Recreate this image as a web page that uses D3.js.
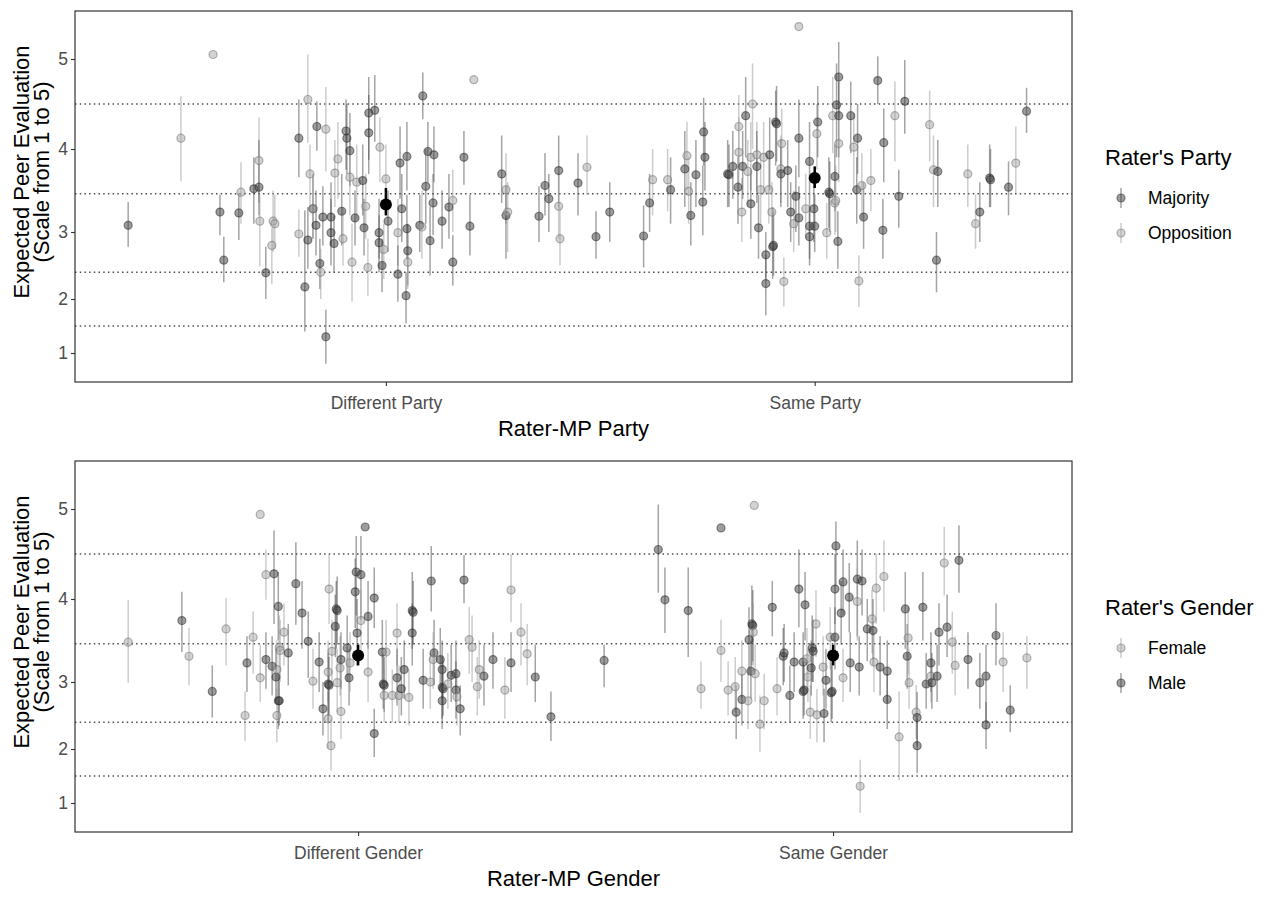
<!DOCTYPE html>
<html>
<head>
<meta charset="utf-8">
<script src="https://cdn.jsdelivr.net/npm/d3@7"></script>
<style>
  html, body { margin: 0; padding: 0; background: #fff; }
  svg { display: block; font-family: "Liberation Sans", Arial, "DejaVu Sans", sans-serif; }
</style>
</head>
<body>
<svg id="chart" width="1275" height="900"></svg>
<script>
// ---------------- data ----------------
const yTicks = [1, 2, 3, 4, 5];
const yTickLatent = [0, 0.54, 1.21, 2.04, 2.94];   // position of each tick label on the latent scale
const latentDomain = [-0.29, 3.42];
const cutpoints = [1.5, 2.4, 3.46, 4.5];

const partyCats = ["Different Party", "Same Party"];
const partyGroups = ["Majority", "Opposition"];
const genderCats = ["Different Gender", "Same Gender"];
const genderGroups = ["Female", "Male"];

// [x (jittered category position), estimate, lower, upper, group]
const partyPoints = [
[0.399,3.08,2.78,3.36,"Majority"],[0.522,4.12,3.61,4.59,"Opposition"],[0.597,5.05,5.05,5.05,"Opposition"],
[0.613,3.24,2.95,3.45,"Majority"],[0.622,2.58,2.25,2.93,"Majority"],[0.657,3.23,2.88,3.47,"Majority"],
[0.662,3.48,3.1,3.84,"Opposition"],[0.704,3.86,3.35,4.35,"Opposition"],[0.692,3.52,3.1,3.9,"Majority"],
[0.704,3.54,3.2,4.1,"Majority"],[0.706,3.13,2.49,3.45,"Opposition"],[0.720,2.39,2.0,2.78,"Majority"],
[0.734,2.8,2.22,3.05,"Opposition"],[0.737,3.13,2.7,3.5,"Opposition"],[0.741,3.1,2.75,3.45,"Opposition"],
[0.797,2.97,2.63,3.27,"Opposition"],[0.797,4.12,3.66,4.55,"Majority"],[0.811,2.18,1.4,3.26,"Majority"],
[0.818,4.55,4.07,5.05,"Opposition"],[0.818,2.88,2.45,3.3,"Majority"],[0.823,3.7,3.3,4.05,"Opposition"],
[0.830,3.28,2.9,3.7,"Majority"],[0.830,3.28,2.9,3.65,"Opposition"],[0.837,3.08,2.65,3.5,"Majority"],
[0.839,4.25,3.98,4.53,"Majority"],[0.846,2.53,2.15,2.9,"Majority"],[0.848,2.4,2.0,2.75,"Opposition"],
[0.853,3.18,2.8,3.55,"Majority"],[0.860,4.22,3.73,4.69,"Opposition"],[0.860,1.3,0.8,1.8,"Majority"],
[0.872,3.18,2.8,3.6,"Majority"],[0.872,2.99,2.5,3.4,"Majority"],[0.879,2.83,2.4,3.2,"Majority"],
[0.881,3.71,3.3,4.1,"Opposition"],[0.888,3.88,3.4,4.3,"Opposition"],[0.897,3.25,2.8,3.7,"Majority"],
[0.900,2.9,2.5,3.3,"Opposition"],[0.907,4.2,3.75,4.55,"Majority"],[0.909,4.12,3.7,4.5,"Majority"],
[0.916,3.98,3.55,4.4,"Majority"],[0.916,3.66,3.2,4.1,"Opposition"],[0.921,2.55,1.95,3.1,"Opposition"],
[0.928,3.17,2.8,3.5,"Majority"],[0.932,3.6,3.15,4.05,"Opposition"],[0.946,3.62,3.2,4.05,"Majority"],
[0.949,3.05,2.65,3.4,"Majority"],[0.953,3.31,2.9,3.7,"Opposition"],[0.958,2.47,2.05,2.9,"Opposition"],
[0.960,4.4,3.87,4.8,"Majority"],[0.960,4.18,3.7,4.6,"Majority"],[0.974,4.43,4.08,4.82,"Majority"],
[0.984,2.99,2.6,3.4,"Majority"],[0.984,2.84,2.4,3.2,"Majority"],[0.986,4.02,3.6,4.35,"Opposition"],
[0.991,2.5,2.1,2.9,"Majority"],[0.995,2.74,2.3,3.1,"Opposition"],[1.0,3.64,3.2,4.05,"Opposition"],
[1.005,3.13,2.7,3.5,"Majority"],[1.028,2.99,2.5,3.4,"Opposition"],[1.028,2.37,1.95,2.8,"Majority"],
[1.033,3.83,3.4,4.25,"Majority"],[1.037,3.28,2.85,3.7,"Majority"],[1.047,2.05,1.55,2.4,"Majority"],
[1.049,3.91,3.5,4.3,"Majority"],[1.049,3.04,2.6,3.45,"Majority"],[1.051,2.72,2.2,3.1,"Majority"],
[1.051,2.55,2.15,2.95,"Opposition"],[1.079,3.08,2.7,3.45,"Majority"],[1.084,3.06,2.6,3.5,"Opposition"],
[1.086,4.59,4.33,4.85,"Majority"],[1.093,3.55,3.1,4.0,"Majority"],[1.098,3.97,3.6,4.3,"Majority"],
[1.103,2.87,2.35,3.3,"Majority"],[1.110,3.35,2.95,3.7,"Majority"],[1.112,3.93,3.6,4.25,"Majority"],
[1.131,3.13,2.75,3.5,"Majority"],[1.147,3.3,2.9,3.7,"Majority"],[1.156,3.38,3.0,3.75,"Opposition"],
[1.156,2.55,2.2,2.95,"Majority"],[1.182,3.9,3.57,4.2,"Majority"],[1.196,3.07,2.65,3.45,"Majority"],
[1.205,4.77,4.77,4.77,"Opposition"],[1.270,3.7,3.35,4.15,"Majority"],[1.280,3.51,3.1,3.95,"Opposition"],
[1.280,3.2,2.6,3.55,"Majority"],[1.284,3.24,2.7,3.6,"Opposition"],[1.357,3.19,2.85,3.55,"Majority"],
[1.371,3.56,3.2,3.95,"Majority"],[1.380,3.4,3.0,3.7,"Majority"],[1.403,3.74,3.3,4.15,"Majority"],
[1.403,3.31,2.9,3.7,"Opposition"],[1.406,2.9,2.5,3.3,"Opposition"],[1.448,3.59,3.2,3.95,"Majority"],
[1.469,3.78,3.45,4.15,"Opposition"],[1.490,2.93,2.6,3.25,"Majority"],[1.522,3.24,2.85,3.6,"Majority"],
[1.601,2.94,2.47,3.32,"Majority"],[1.615,3.35,3.0,3.7,"Majority"],[1.622,3.63,3.2,4.0,"Opposition"],
[1.657,3.63,3.25,4.0,"Opposition"],[1.664,3.51,3.1,3.9,"Majority"],[1.697,3.76,3.3,4.2,"Majority"],
[1.702,3.92,3.5,4.3,"Opposition"],[1.706,3.49,3.1,3.9,"Opposition"],[1.711,3.2,2.8,3.6,"Majority"],
[1.723,3.69,3.3,4.1,"Majority"],[1.741,4.19,3.8,4.57,"Majority"],[1.744,3.9,3.5,4.3,"Majority"],
[1.739,3.36,2.95,3.8,"Majority"],[1.797,3.7,3.3,4.1,"Majority"],[1.800,3.69,3.3,4.05,"Majority"],
[1.809,3.79,3.4,4.2,"Majority"],[1.821,3.54,3.1,3.9,"Majority"],[1.823,4.25,3.8,4.6,"Opposition"],
[1.823,3.96,3.5,4.35,"Opposition"],[1.830,3.24,2.85,3.65,"Opposition"],[1.832,3.79,3.4,4.2,"Majority"],
[1.839,4.37,3.9,4.8,"Majority"],[1.844,3.73,3.3,4.1,"Opposition"],[1.851,3.9,3.5,4.3,"Opposition"],
[1.851,3.34,2.9,3.75,"Majority"],[1.855,4.5,4.0,4.95,"Opposition"],[1.865,3.93,3.5,4.3,"Opposition"],
[1.865,3.79,3.35,4.2,"Majority"],[1.869,3.05,2.6,3.45,"Majority"],[1.874,3.51,3.1,3.9,"Opposition"],
[1.881,3.9,3.45,4.3,"Opposition"],[1.886,2.66,2.3,3.0,"Majority"],[1.886,2.23,1.7,2.66,"Majority"],
[1.893,3.51,3.1,3.9,"Opposition"],[1.895,3.93,3.5,4.35,"Majority"],[1.900,3.24,2.85,3.6,"Opposition"],
[1.902,2.78,2.3,3.3,"Majority"],[1.904,2.8,2.35,3.25,"Majority"],[1.909,4.3,3.8,4.65,"Majority"],
[1.911,4.28,3.85,4.7,"Majority"],[1.921,3.76,3.35,4.15,"Opposition"],[1.921,3.7,3.3,4.1,"Majority"],
[1.923,4.06,3.6,4.45,"Opposition"],[1.928,2.26,1.86,2.62,"Opposition"],[1.937,3.74,3.3,4.1,"Majority"],
[1.944,3.24,2.85,3.6,"Majority"],[1.951,3.1,2.7,3.5,"Opposition"],[1.956,3.43,3.0,3.8,"Majority"],
[1.963,4.12,3.66,4.55,"Majority"],[1.963,3.17,2.8,3.55,"Majority"],[1.979,3.28,2.9,3.7,"Opposition"],
[1.988,3.85,3.45,4.3,"Majority"],[1.988,3.07,2.6,3.45,"Majority"],[1.988,2.93,2.5,3.3,"Majority"],
[1.998,3.28,2.85,3.65,"Majority"],[2.0,3.07,2.7,3.45,"Majority"],[2.005,4.17,3.75,4.5,"Opposition"],
[2.007,4.3,3.9,4.7,"Majority"],[2.028,2.99,2.6,3.35,"Opposition"],[2.033,3.48,3.05,3.9,"Majority"],
[2.035,3.46,3.0,3.85,"Majority"],[2.042,4.37,3.95,4.8,"Opposition"],[2.047,3.67,3.25,4.05,"Majority"],
[2.047,3.35,2.95,3.75,"Opposition"],[2.049,3.38,3.0,3.8,"Opposition"],[2.051,4.49,3.9,4.95,"Majority"],
[2.054,2.86,2.45,3.25,"Majority"],[2.056,4.8,4.35,5.19,"Majority"],[2.056,4.37,3.9,4.75,"Majority"],
[2.056,4.06,3.6,4.45,"Opposition"],[2.084,4.37,3.95,4.75,"Majority"],[2.091,4.02,3.55,4.4,"Opposition"],
[2.098,3.51,3.1,3.9,"Majority"],[2.100,4.12,3.7,4.5,"Majority"],[2.103,2.27,1.85,2.65,"Opposition"],
[2.110,3.56,3.15,3.95,"Opposition"],[2.114,3.18,2.75,3.6,"Majority"],[2.131,3.62,3.25,4.0,"Opposition"],
[2.147,4.76,4.5,5.03,"Majority"],[2.159,3.02,2.6,3.4,"Majority"],[2.161,4.07,3.6,4.45,"Majority"],
[2.187,4.37,3.85,4.75,"Opposition"],[2.196,3.43,3.05,3.75,"Majority"],[2.210,4.53,4.17,4.99,"Majority"],
[2.268,4.27,3.85,4.65,"Opposition"],[2.277,3.75,3.3,4.15,"Opposition"],[2.284,2.58,2.1,3.0,"Majority"],
[2.287,3.73,3.3,4.1,"Majority"],[2.357,3.7,3.3,4.05,"Opposition"],[2.375,3.1,2.75,3.45,"Opposition"],
[2.385,3.24,2.85,3.6,"Majority"],[2.408,3.65,3.3,4.05,"Majority"],[2.410,3.63,3.3,4.0,"Majority"],
[2.452,3.54,3.2,3.85,"Majority"],[2.469,3.83,3.47,4.25,"Opposition"],[2.494,4.42,4.18,4.68,"Majority"],
[1.963,5.36,5.36,5.36,"Opposition"]
];
// [category position, mean, lower, upper]
const partyMeans = [[1, 3.33, 3.2, 3.53], [2, 3.65, 3.53, 3.79]];

const genderPoints = [
[0.516,3.48,2.99,3.99,"Female"],[0.629,3.74,3.36,4.08,"Male"],[0.644,3.31,2.95,3.65,"Female"],
[0.693,2.86,2.47,3.2,"Male"],[0.722,3.64,3.2,4.01,"Female"],[0.762,2.5,2.12,2.86,"Female"],
[0.766,3.23,2.85,3.55,"Male"],[0.779,3.54,3.1,3.85,"Female"],[0.794,4.94,4.94,4.94,"Female"],
[0.794,3.05,2.7,3.45,"Female"],[0.806,4.27,3.99,4.55,"Female"],[0.806,3.27,2.9,3.6,"Male"],
[0.819,3.19,2.8,3.55,"Male"],[0.823,4.28,3.7,4.76,"Male"],[0.827,3.06,2.7,3.4,"Male"],
[0.829,3.15,2.75,3.5,"Female"],[0.832,3.91,3.5,4.3,"Male"],[0.832,2.72,2.3,3.1,"Male"],
[0.834,2.72,2.35,3.05,"Male"],[0.829,2.5,2.1,2.9,"Female"],[0.834,3.42,3.0,3.8,"Female"],
[0.844,3.6,3.2,3.95,"Female"],[0.836,3.38,3.0,3.75,"Female"],[0.853,3.35,2.95,3.7,"Male"],
[0.869,4.17,3.69,4.63,"Male"],[0.882,3.83,3.4,4.2,"Male"],[0.895,3.49,3.05,3.85,"Male"],
[0.905,3.01,2.6,3.4,"Female"],[0.918,3.24,2.85,3.6,"Male"],[0.926,2.6,2.2,3.0,"Male"],
[0.937,2.45,2.0,2.85,"Female"],[0.943,2.05,1.6,2.45,"Female"],[0.937,3.12,2.7,3.5,"Female"],
[0.937,2.97,2.4,3.35,"Male"],[0.939,2.95,2.5,3.3,"Male"],[0.939,4.11,3.7,4.5,"Female"],
[0.945,3.37,3.0,3.75,"Female"],[0.952,3.67,3.3,4.05,"Male"],[0.954,3.88,3.4,4.2,"Male"],
[0.956,3.86,3.45,4.25,"Male"],[0.956,2.99,2.55,3.4,"Female"],[0.962,3.17,2.8,3.55,"Female"],
[0.964,3.27,2.9,3.6,"Male"],[0.964,2.56,2.15,2.95,"Female"],[0.977,3.41,3.0,3.8,"Male"],
[0.981,3.05,2.65,3.4,"Male"],[0.983,3.23,2.85,3.6,"Female"],[0.994,4.08,3.65,4.45,"Male"],
[0.996,4.3,3.8,4.7,"Male"],[0.998,3.59,3.2,4.0,"Male"],[1.006,4.27,3.75,4.7,"Male"],
[1.006,3.74,3.3,4.1,"Female"],[1.015,4.8,4.8,4.8,"Male"],[1.021,3.79,3.4,4.2,"Male"],
[1.021,3.12,2.7,3.5,"Female"],[1.034,4.01,3.65,4.35,"Male"],[1.034,2.23,1.85,2.6,"Male"],
[1.051,3.36,2.95,3.75,"Male"],[1.053,2.97,2.6,3.35,"Male"],[1.055,2.95,2.55,3.3,"Male"],
[1.055,2.8,2.4,3.15,"Female"],[1.059,3.36,2.95,3.75,"Female"],[1.072,2.8,2.4,3.15,"Female"],
[1.082,3.59,3.2,3.95,"Female"],[1.082,3.05,2.65,3.4,"Male"],[1.086,2.8,2.4,3.2,"Female"],
[1.091,2.9,2.5,3.3,"Male"],[1.097,3.15,2.75,3.5,"Male"],[1.107,2.77,2.35,3.15,"Female"],
[1.114,3.86,3.4,4.3,"Male"],[1.116,3.84,3.45,4.2,"Male"],[1.114,3.59,3.2,3.95,"Male"],
[1.137,3.02,2.6,3.4,"Male"],[1.152,3.0,2.6,3.35,"Female"],[1.154,4.2,3.85,4.59,"Male"],
[1.160,3.35,2.95,3.75,"Male"],[1.158,3.27,2.9,3.6,"Female"],[1.173,3.27,2.9,3.65,"Male"],
[1.177,3.15,2.75,3.5,"Male"],[1.177,2.92,2.45,3.3,"Male"],[1.179,2.9,2.5,3.25,"Male"],
[1.177,2.72,2.3,3.1,"Male"],[1.189,2.97,2.6,3.35,"Female"],[1.196,3.08,2.7,3.45,"Male"],
[1.206,3.1,2.7,3.5,"Male"],[1.206,2.88,2.45,3.25,"Male"],[1.208,2.78,2.35,3.15,"Female"],
[1.215,2.6,2.2,2.95,"Male"],[1.223,4.21,3.95,4.49,"Male"],[1.234,3.51,3.1,3.9,"Female"],
[1.240,3.42,3.0,3.8,"Female"],[1.251,2.93,2.5,3.3,"Female"],[1.255,3.15,2.75,3.5,"Female"],
[1.265,3.07,2.65,3.45,"Male"],[1.284,3.27,2.9,3.6,"Male"],[1.309,2.88,2.45,3.3,"Female"],
[1.322,3.23,2.85,3.6,"Male"],[1.322,4.1,3.72,4.5,"Female"],[1.343,3.6,3.2,3.95,"Female"],
[1.356,3.34,2.95,3.7,"Female"],[1.373,3.06,2.7,3.45,"Male"],[1.406,2.48,2.12,2.86,"Male"],
[1.518,3.26,2.92,3.45,"Male"],
[1.632,4.55,4.07,5.05,"Male"],[1.646,3.99,3.59,4.35,"Male"],[1.695,3.86,3.3,4.35,"Male"],
[1.722,2.9,2.6,3.25,"Female"],[1.764,4.79,4.79,4.79,"Male"],[1.764,3.38,3.0,3.75,"Female"],
[1.779,2.88,2.5,3.25,"Female"],[1.794,2.93,2.55,3.3,"Female"],[1.796,2.55,2.15,2.95,"Male"],
[1.808,3.13,2.75,3.5,"Female"],[1.808,2.74,2.35,3.1,"Male"],[1.821,2.72,2.3,3.1,"Female"],
[1.823,3.51,3.1,3.9,"Male"],[1.827,3.13,2.75,3.5,"Male"],[1.829,3.7,3.2,4.15,"Male"],
[1.831,3.68,3.25,4.1,"Male"],[1.832,3.6,3.2,3.95,"Female"],[1.834,5.04,5.04,5.04,"Female"],
[1.836,3.1,2.7,3.45,"Female"],[1.846,2.37,1.95,2.8,"Female"],[1.855,2.72,2.3,3.1,"Female"],
[1.872,3.9,3.55,4.2,"Male"],[1.882,2.9,2.5,3.3,"Female"],[1.895,3.31,2.95,3.65,"Male"],
[1.897,3.35,3.0,3.7,"Male"],[1.909,2.8,2.4,3.2,"Male"],[1.918,3.24,2.85,3.6,"Male"],
[1.928,4.11,3.66,4.55,"Male"],[1.937,3.24,2.85,3.6,"Male"],[1.937,2.86,2.45,3.25,"Male"],
[1.939,2.88,2.5,3.2,"Male"],[1.941,3.93,3.5,4.3,"Male"],[1.945,3.28,2.9,3.65,"Female"],
[1.947,3.06,2.7,3.4,"Female"],[1.952,2.55,2.15,2.95,"Female"],[1.954,3.17,2.8,3.5,"Male"],
[1.956,3.41,3.0,3.8,"Male"],[1.958,3.37,3.0,3.75,"Male"],[1.964,3.7,3.3,4.1,"Female"],
[1.966,2.51,2.1,2.9,"Female"],[1.979,3.18,2.8,3.55,"Female"],[1.981,2.53,2.1,2.9,"Male"],
[1.985,3.02,2.6,3.4,"Male"],[1.994,3.54,3.15,3.9,"Female"],[1.996,2.84,2.4,3.25,"Male"],
[1.998,2.86,2.45,3.2,"Male"],[2.004,4.11,3.7,4.5,"Male"],[2.004,3.54,3.15,3.9,"Male"],
[2.006,4.59,4.15,4.86,"Male"],[2.017,3.83,3.45,4.2,"Male"],[2.021,4.19,3.8,4.55,"Male"],
[2.021,3.05,2.7,3.4,"Female"],[2.034,4.02,3.6,4.4,"Male"],[2.036,3.23,2.85,3.6,"Male"],
[2.051,4.22,3.55,4.65,"Male"],[2.051,3.97,3.5,4.35,"Female"],[2.055,3.18,2.8,3.55,"Male"],
[2.057,1.31,0.82,1.8,"Female"],[2.061,4.2,3.8,4.55,"Male"],[2.072,3.64,3.25,4.0,"Male"],
[2.082,3.76,3.35,4.1,"Female"],[2.084,3.62,3.2,4.0,"Male"],[2.086,3.24,2.85,3.6,"Female"],
[2.091,4.12,3.7,4.5,"Female"],[2.099,3.18,2.8,3.55,"Male"],[2.107,4.25,3.85,4.65,"Female"],
[2.114,3.13,2.7,3.5,"Male"],[2.114,2.74,2.3,3.1,"Male"],[2.139,2.18,1.42,2.86,"Female"],
[2.152,3.88,3.4,4.3,"Male"],[2.156,3.31,2.9,3.7,"Male"],[2.158,3.53,3.1,3.9,"Female"],
[2.160,2.99,2.6,3.4,"Female"],[2.175,2.55,2.15,2.95,"Female"],[2.177,2.47,2.05,2.85,"Male"],
[2.177,2.05,1.55,2.45,"Male"],[2.189,3.9,3.5,4.3,"Male"],[2.196,2.97,2.6,3.35,"Male"],
[2.206,3.23,2.85,3.6,"Male"],[2.206,3.07,2.7,3.45,"Female"],[2.208,2.99,2.6,3.35,"Male"],
[2.219,3.07,2.7,3.45,"Male"],[2.223,3.6,3.2,3.95,"Male"],[2.234,4.4,4.04,4.8,"Female"],
[2.240,3.66,3.3,4.05,"Male"],[2.251,3.48,3.1,3.85,"Female"],[2.257,3.2,2.8,3.55,"Female"],
[2.265,4.43,4.07,4.82,"Male"],[2.284,3.27,2.9,3.6,"Male"],[2.309,2.99,2.6,3.35,"Male"],
[2.322,3.07,2.4,3.45,"Male"],[2.322,2.36,2.0,2.7,"Male"],[2.343,3.56,3.2,3.95,"Male"],
[2.358,3.24,2.85,3.6,"Female"],[2.373,2.58,2.25,2.95,"Male"],[2.408,3.29,2.9,3.55,"Female"]
];
const genderMeans = [[1, 3.32, 3.2, 3.45], [2, 3.32, 3.2, 3.45]];

// ---------------- styles ----------------
const shade = {
  dark:  { fill: "#3c3c3c", stroke: "#262626", bar: "#4a4a4a" },
  light: { fill: "#a8a8a8", stroke: "#6e6e6e", bar: "#9a9a9a" }
};
const partyShade = { "Majority": shade.dark, "Opposition": shade.light };
const genderShade = { "Female": shade.light, "Male": shade.dark };
const FONT = "Liberation Sans, Arial, sans-serif";

const svg = d3.select("#chart");
const left = 75, right = 1072;

// label value -> latent position (piecewise, extrapolating beyond 1 and 5)
const toLatent = d3.scaleLinear().domain(yTicks).range(yTickLatent);

function drawPanel(cfg) {
  const top = cfg.top, bottom = cfg.top + 371;
  const yLatent = d3.scaleLinear().domain(latentDomain).range([bottom, top]);
  const y = v => yLatent(toLatent(v));
  const yAxisScale = d3.scaleLinear().domain(yTicks).range(yTickLatent.map(l => yLatent(l)));
  const x = d3.scaleLinear().domain(cfg.xDomain).range([left, right]);
  const g = svg.append("g");

  // reference (cutpoint) lines
  g.selectAll("line.cut").data(cutpoints).join("line")
    .attr("x1", left).attr("x2", right)
    .attr("y1", d => y(d)).attr("y2", d => y(d))
    .attr("stroke", "#4d4d4d").attr("stroke-width", 1.4)
    .attr("stroke-dasharray", "1.5,3.2");

  // error bars
  g.selectAll("line.err").data(cfg.points.filter(d => d[3] > d[2])).join("line")
    .attr("x1", d => x(d[0])).attr("x2", d => x(d[0]))
    .attr("y1", d => y(d[3])).attr("y2", d => y(d[2]))
    .attr("stroke", d => cfg.shade[d[4]].bar)
    .attr("stroke-opacity", 0.5).attr("stroke-width", 1.5);

  // points
  g.selectAll("circle.pt").data(cfg.points).join("circle")
    .attr("cx", d => x(d[0])).attr("cy", d => y(d[1])).attr("r", 4)
    .attr("fill", d => cfg.shade[d[4]].fill).attr("fill-opacity", 0.5)
    .attr("stroke", d => cfg.shade[d[4]].stroke).attr("stroke-opacity", 0.5)
    .attr("stroke-width", 1.2);

  // means
  g.selectAll("line.mean").data(cfg.means).join("line")
    .attr("x1", d => x(d[0])).attr("x2", d => x(d[0]))
    .attr("y1", d => y(d[3])).attr("y2", d => y(d[2]))
    .attr("stroke", "#000").attr("stroke-width", 2.5);
  g.selectAll("circle.mean").data(cfg.means).join("circle")
    .attr("cx", d => x(d[0])).attr("cy", d => y(d[1])).attr("r", 6)
    .attr("fill", "#000");

  // panel border
  g.append("rect").attr("x", left).attr("y", top)
    .attr("width", right - left).attr("height", bottom - top)
    .attr("fill", "none").attr("stroke", "#333").attr("stroke-width", 1.2);

  // y axis
  const ya = g.append("g").attr("transform", `translate(${left},0)`)
    .call(d3.axisLeft(yAxisScale).tickValues(yTicks).tickSize(4).tickPadding(3).tickFormat(d3.format("d")));
  ya.select(".domain").remove();
  ya.selectAll(".tick line").attr("stroke", "#333").attr("stroke-width", 1.1);
  ya.selectAll(".tick text").attr("fill", "#4d4d4d").attr("font-size", 17.5)
    .attr("font-family", FONT);

  // x axis
  const xa = g.append("g").attr("transform", `translate(0,${bottom})`)
    .call(d3.axisBottom(x).tickValues([1, 2]).tickSize(4).tickPadding(11)
      .tickFormat(d => cfg.cats[d - 1]));
  xa.select(".domain").remove();
  xa.selectAll(".tick line").attr("stroke", "#333").attr("stroke-width", 1.1);
  xa.selectAll(".tick text").attr("fill", "#4d4d4d").attr("font-size", 17.5)
    .attr("font-family", FONT);

  // axis titles
  g.append("text").attr("x", (left + right) / 2).attr("y", bottom + 54)
    .attr("text-anchor", "middle").attr("font-size", 22).attr("fill", "#000")
    .attr("font-family", FONT).text(cfg.xTitle);
  const yt = g.append("text").attr("transform", `translate(0,${top + 161}) rotate(-90)`)
    .attr("text-anchor", "middle").attr("font-size", 22).attr("fill", "#000")
    .attr("font-family", FONT);
  yt.append("tspan").attr("x", 0).attr("y", 29).text("Expected Peer Evaluation");
  yt.append("tspan").attr("x", 0).attr("y", 49).text("(Scale from 1 to 5)");

  // legend
  const lg = g.append("g").attr("transform", `translate(1105,${top + 147})`);
  lg.append("text").attr("x", 0).attr("y", 7).attr("font-size", 22).attr("fill", "#000")
    .attr("font-family", FONT).text(cfg.legendTitle);
  cfg.groups.forEach((grp, i) => {
    const cy = 40 + i * 35;
    const s = cfg.shade[grp];
    lg.append("line").attr("x1", 16).attr("x2", 16).attr("y1", cy - 10).attr("y2", cy + 10)
      .attr("stroke", s.bar).attr("stroke-opacity", 0.5).attr("stroke-width", 1.5);
    lg.append("circle").attr("cx", 16).attr("cy", cy).attr("r", 4)
      .attr("fill", s.fill).attr("fill-opacity", 0.5)
      .attr("stroke", s.stroke).attr("stroke-opacity", 0.5).attr("stroke-width", 1.2);
    lg.append("text").attr("x", 43).attr("y", cy + 6).attr("font-size", 17.5).attr("fill", "#000")
      .attr("font-family", FONT).text(grp);
  });
}

drawPanel({
  top: 11, cats: partyCats, xDomain: [0.275, 2.6], points: partyPoints, means: partyMeans,
  shade: partyShade, groups: partyGroups, xTitle: "Rater-MP Party", legendTitle: "Rater's Party"
});
drawPanel({
  top: 461, cats: genderCats, xDomain: [0.404, 2.503], points: genderPoints, means: genderMeans,
  shade: genderShade, groups: genderGroups, xTitle: "Rater-MP Gender", legendTitle: "Rater's Gender"
});
</script>
</body>
</html>
